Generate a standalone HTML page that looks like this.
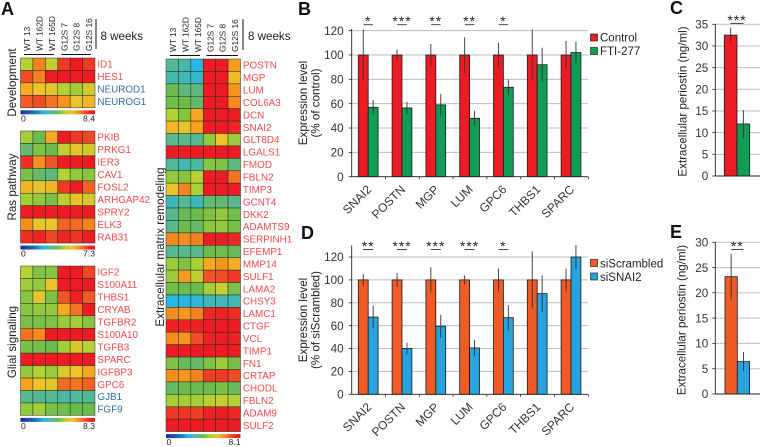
<!DOCTYPE html>
<html lang="en">
<head>
<meta charset="utf-8">
<title>Expression heatmaps and bar charts</title>
<style>
html,body{margin:0;padding:0;background:#fff}
svg{display:block;font-family:"Liberation Sans",Arial,sans-serif}
.letter{font-size:18px;font-weight:bold;fill:#111}
.title{font-size:11.6px;fill:#222}
.wk{font-size:11.6px;fill:#222}
</style>
</head>
<body>
<svg id="fig" xmlns="http://www.w3.org/2000/svg" width="760" height="447" viewBox="0 0 760 447">
  <defs>
    <linearGradient id="cbar" x1="0" x2="1" y1="0" y2="0"></linearGradient>
  </defs>
  <text class="letter" x="1" y="15">A</text>
  <text class="letter" x="298" y="15">B</text>
  <text class="letter" x="670" y="14">C</text>
  <text class="letter" x="301" y="239">D</text>
  <text class="letter" x="670" y="238">E</text>

  <text class="title" text-anchor="middle" transform="translate(16,82.5) rotate(-90)">Development</text>
  <text class="title" text-anchor="middle" transform="translate(16,187) rotate(-90)">Ras pathway</text>
  <text class="title" text-anchor="middle" transform="translate(16,342) rotate(-90)">Glial signaling</text>
  <text class="title" text-anchor="middle" transform="translate(164,247) rotate(-90)">Extracellular matrix remodeling</text>

  <line x1="96" x2="96" y1="19" y2="49" stroke="#111" stroke-width="1"/>
  <text class="wk" x="100.5" y="40">8 weeks</text>
  <line x1="243" x2="243" y1="19" y2="50" stroke="#111" stroke-width="1"/>
  <text class="wk" x="248" y="40">8 weeks</text>
  <line x1="24" x2="54" y1="54.5" y2="54.5" stroke="#111" stroke-width="1"/>
  <line x1="61.5" x2="91" y1="54.5" y2="54.5" stroke="#111" stroke-width="1"/>
  <line x1="170" x2="200" y1="55.5" y2="55.5" stroke="#111" stroke-width="1"/>
  <line x1="206.5" x2="238" y1="55.5" y2="55.5" stroke="#111" stroke-width="1"/>

  <text class="title" text-anchor="middle" transform="translate(307,103) rotate(-90)">Expression level</text>
  <text class="title" text-anchor="middle" transform="translate(319.5,103) rotate(-90)">(% of control)</text>
  <text class="title" text-anchor="middle" transform="translate(307,320) rotate(-90)">Expression level</text>
  <text class="title" text-anchor="middle" transform="translate(319.5,320) rotate(-90)">(% of siScrambled)</text>
  <text class="title" text-anchor="middle" transform="translate(686.5,101.5) rotate(-90)">Extracellular periostin (ng/ml)</text>
  <text class="title" text-anchor="middle" transform="translate(685.5,320) rotate(-90)">Extracellular periostin (ng/ml)</text>

  <rect x="590.5" y="34" width="7" height="7" fill="#ed1c24" stroke="#222" stroke-width=".7"/>
  <text x="600" y="41.5" font-size="11.5" fill="#222">Control</text>
  <rect x="590.5" y="47.5" width="7" height="7" fill="#0f9d58" stroke="#222" stroke-width=".7"/>
  <text x="600" y="55" font-size="11.5" fill="#222">FTI-277</text>
  <rect x="590.5" y="259.5" width="7" height="7" fill="#f15a24" stroke="#222" stroke-width=".7"/>
  <text x="600" y="267.5" font-size="11.5" fill="#222">siScrambled</text>
  <rect x="590.5" y="273" width="7" height="7" fill="#27a4dd" stroke="#222" stroke-width=".7"/>
  <text x="600" y="281" font-size="11.5" fill="#222">siSNAI2</text>
</svg>
<script>
// ---------- heatmap data (expression on a 0-10 colour scale) ----------
const sampleLabels = ["WT 13","WT 162D","WT 165D","G12S 7","G12S 8","G12S 16"];

const devGenes = ["ID1","HES1","NEUROD1","NEUROG1"];
const devValues = [
  [6,8,6.2,9,9.5,9],
  [8.7,8,9.5,9.5,9.5,9.5],
  [7.3,7,6.8,6,5.8,6.5],
  [8.5,8.7,8.2,7.7,7,7.2]
];
const rasGenes = ["PKIB","PRKG1","IER3","CAV1","FOSL2","ARHGAP42","SPRY2","ELK3","RAB31"];
const rasValues = [
  [5.8,5,7.4,9.5,9,8.8],
  [4.7,5.3,5,6.2,6.8,6.5],
  [9.2,7.8,8.6,9.5,9.5,9.5],
  [5.2,4.8,4.6,6,5.6,5.4],
  [7.2,6.8,7.2,9,9.5,8.4],
  [5.8,5.6,5.2,6.2,6.9,6.5],
  [9.5,9.5,9.5,9.5,9.5,9.5],
  [7.8,6.9,7,8.4,8.3,8],
  [9.2,9.4,8.8,9.3,9.1,9.5]
];
const glialGenes = ["IGF2","S100A11","THBS1","CRYAB","TGFBR2","S100A10","TGFB3","SPARC","IGFBP3","GPC6","GJB1","FGF9"];
const glialValues = [
  [6,5.3,5.4,9.5,9.5,8.8],
  [5.8,5.6,7,9.5,9.5,9.5],
  [5.4,6.8,5.2,8.6,9.4,8.5],
  [5.4,5.6,5.6,7.4,8.2,9.5],
  [5.2,5.2,5.3,5.7,5.8,5.4],
  [8.2,7.9,9.5,9.5,9.5,9.5],
  [5.2,5.1,5,5.8,6.6,6],
  [9.5,9.5,9.5,9.5,9.5,9.5],
  [5.6,6,5.7,6.6,7,7.4],
  [7.5,7,6.7,8.3,8.2,8.4],
  [4.4,4.3,4.3,3.9,4.1,4.2],
  [5.6,5.8,5.2,5.1,5,5]
];
const ecmGenes = ["POSTN","MGP","LUM","COL6A3","DCN","SNAI2","GLT8D4","LGALS1","FMOD","FBLN2","TIMP3","GCNT4","DKK2","ADAMTS9","SERPINH1","EFEMP1","MMP14","SULF1","LAMA2","CHSY3","LAMC1","CTGF","VCL","TIMP1","FN1","CRTAP","CHODL","FBLN2","ADAM9","SULF2"];
const ecmValues = [
  [4.2,3.9,3,9.5,9.5,7.6],
  [3.8,3.7,3.4,9.5,9.5,7.1],
  [5,4.6,4.6,9.5,9.5,7.7],
  [5.1,5,4.7,9.5,9.5,7.9],
  [6,5.4,7.4,9.5,9.5,9.5],
  [7.2,6.9,7.5,9.5,9.5,9.3],
  [4.4,4.4,4.3,5.6,7,5.7],
  [9.5,9.5,9.5,9.5,9.5,9.5],
  [4.2,3.8,4,5.4,5.3,4.6],
  [5.6,5.4,6.1,9.5,9.5,8.2],
  [6.9,8,5.9,9.5,9.5,9.5],
  [3.6,4.3,3.6,4.7,4.7,4.4],
  [4.4,4.9,5,5.3,5.6,5.1],
  [4.4,5,4.8,5.5,5.6,5.2],
  [7.9,7.8,8,9.5,9.5,9.3],
  [4.3,4.4,4.4,5,5.1,4.9],
  [5.7,5.3,5.9,7.4,7.7,7.3],
  [5.7,7.6,6.2,8.6,8.7,9],
  [5.1,5,5,5.8,6.3,5.2],
  [3,3.1,3.2,3.6,3.7,3.7],
  [7.8,7.7,8,9.3,9.4,9.2],
  [9.4,9.4,9.4,9.5,9.5,9.5],
  [7.8,7.7,8.7,9.4,9.5,9.4],
  [9.5,9.5,9.5,9.5,9.5,9.5],
  [5.3,4.9,4.8,5.3,5.7,5.2],
  [7.8,7.7,8,8.9,9,8.7],
  [4.8,5,5,5,5.2,4.9],
  [5.8,5.8,5.8,6.1,6.3,6],
  [9,9.1,8.9,9.4,9.5,9.3],
  [9.5,9.5,9.5,9.5,9.5,9.5]
];
const blueGenes = ["NEUROD1","NEUROG1","GJB1","FGF9"];

// ---------- bar chart data ----------
const expressionGenes = ["SNAI2","POSTN","MGP","LUM","GPC6","THBS1","SPARC"];
const ticksB = [0,20,40,60,80,100,120];
const controlValues = [100,100,100,100,100,100,100];
const controlErrors = [21,4.5,9,14.5,10,21,11.5];
const ftiValues = [57,56.5,59,48,73.5,92,102];
const ftiErrors = [6,5,9,6,6.5,14,9];
const starsB = ["*","***","**","**","*","",""];

const ticksD = [0,20,40,60,80,100,120];
const scrambledValues = [100,100,100,100,100,100,100];
const scrambledErrors = [5,6,11,4,10,25,10];
const sisnaiValues = [67.5,40,59.5,40.5,67,88,120];
const sisnaiErrors = [10,5,10,7,11,16,10.5];
const starsD = ["**","***","***","***","*","",""];

const ticksC = [0,5,10,15,20,25,30,35];
const periostinCValues = [32.5,12];
const periostinCErrors = [1.7,3.2];
const starsC = "***";

const ticksE = [0,5,10,15,20,25,30];
const periostinEValues = [23.2,6.4];
const periostinEErrors = [4.5,1.9];
const starsE = "**";

// ---------- helpers ----------
const svg = document.getElementById('fig');
const NS = 'http://www.w3.org/2000/svg';
function mk(tag, attrs, text){
  const n = document.createElementNS(NS, tag);
  for(const k in attrs) n.setAttribute(k, attrs[k]);
  if(text !== undefined) n.textContent = text;
  svg.appendChild(n);
  return n;
}
const colorStops = [
  [0,'#1b2a8f'],[2,'#1c75bc'],[3,'#27b6e6'],[4,'#4db8a0'],[4.5,'#5cb88a'],[5,'#6cbb4e'],
  [5.5,'#8cc63f'],[6,'#b2d235'],[6.5,'#d4c92c'],[7,'#eec22a'],[7.5,'#f7a11d'],[8,'#f58220'],
  [8.5,'#f15a29'],[9,'#ee3a24'],[9.5,'#ed1c24'],[10,'#ed1c24']
];
function hexRgb(h){return [1,3,5].map(i=>parseInt(h.slice(i,i+2),16));}
function heatColor(v){
  for(let i=1;i<colorStops.length;i++){
    if(v<=colorStops[i][0]){
      const a=colorStops[i-1],b=colorStops[i],t=(v-a[0])/(b[0]-a[0]);
      const ca=hexRgb(a[1]),cb=hexRgb(b[1]);
      return 'rgb('+ca.map((c,j)=>Math.round(c+(cb[j]-c)*t)).join(',')+')';
    }
  }
  return colorStops[colorStops.length-1][1];
}
const grad = document.getElementById('cbar');
colorStops.forEach(s=>{
  const st=document.createElementNS(NS,'stop');
  st.setAttribute('offset',(s[0]/10*100)+'%');
  st.setAttribute('stop-color',s[1]);
  grad.appendChild(st);
});

function heatmap(opt){
  const cw=opt.w/6, rh=opt.rowH;
  opt.values.forEach((row,r)=>{
    row.forEach((v,c)=>{
      const cell=mk('rect',{x:opt.x+c*cw,y:opt.y+r*rh,width:cw,height:rh,fill:heatColor(v),stroke:'#1a2a1a','stroke-width':.55,'stroke-opacity':.85});
      
      
    });
    const g=opt.genes[r];
    const lab=mk('text',{x:opt.x+opt.w+2.4,y:opt.y+r*rh+rh/2+3.5,'font-size':9.9,fill:blueGenes.includes(g)?'#2f6ea5':'#f04a4a'},g);
    
    
  });
  const bottom=opt.y+opt.values.length*rh;
  const bar=mk('rect',{x:opt.x,y:bottom+2.5,width:opt.w,height:4,fill:'url(#cbar)'});
  
  
  const lo=mk('text',{x:opt.x+.5,y:bottom+13.5,'font-size':8.6,fill:'#222'},'0');
  
  
  const hi=mk('text',{x:opt.x+opt.w,y:bottom+13.5,'font-size':8.6,fill:'#222','text-anchor':'end'},opt.max);
  
  
}
heatmap({x:20.5,y:58,w:74.5,rowH:12.45,values:devValues,genes:devGenes,max:'8.4'});
heatmap({x:20.5,y:131,w:74.5,rowH:12.45,values:rasValues,genes:rasGenes,max:'7.3'});
heatmap({x:20.5,y:266,w:74.5,rowH:12.45,values:glialValues,genes:glialGenes,max:'8.3'});
heatmap({x:166,y:59,w:74.5,rowH:12.42,values:ecmValues,genes:ecmGenes,max:'8.1'});

function sampleHeaders(x0,yEnd){
  sampleLabels.forEach((s,i)=>{
    const t=mk('text',{'font-size':8.3,fill:'#222',transform:'translate('+(x0+i*12.42)+','+yEnd+') rotate(-90)'},s);
    
    
  });
}
sampleHeaders(30,51);
sampleHeaders(176,52);

function barChart(o){
  const xAt=i=>o.x0+o.step*i;
  const y=v=>o.y0-v*o.scale;
  o.ticks.forEach(t=>{
    if(t>0){
      const g=mk('line',{x1:o.x0,x2:o.xEnd,y1:y(t),y2:y(t),stroke:'#bdbdbd','stroke-width':1});
      
      
    }
    const tk=mk('line',{x1:o.x0-3,x2:o.x0,y1:y(t),y2:y(t),stroke:'#222','stroke-width':.8});
    
    
    const lb=mk('text',{x:o.x0-o.labelGap,y:y(t)+4.2,'font-size':11.7,fill:'#333','text-anchor':'end'},t);
    
    
  });
  o.a.forEach((va,i)=>{
    const xl=xAt(i)+o.off;
    const r1=mk('rect',{x:xl,y:y(va),width:o.bw,height:y(0)-y(va),fill:o.colA,stroke:'#1a1a1a','stroke-width':.8});
    
    
    const vb=o.b[i];
    const r2=mk('rect',{x:xl+o.bw,y:y(vb),width:o.bw,height:y(0)-y(vb),fill:o.colB,stroke:'#1a1a1a','stroke-width':.8});
    
    
    const e1=mk('line',{x1:xl+o.bw/2,x2:xl+o.bw/2,y1:y(va+o.ea[i]),y2:y(va-o.ea[i]),stroke:'#333','stroke-width':.9});
    
    
    const e2=mk('line',{x1:xl+1.5*o.bw,x2:xl+1.5*o.bw,y1:y(vb+o.eb[i]),y2:y(vb-o.eb[i]),stroke:'#333','stroke-width':.9});
    
    
    const star=o.stars[i];
    if(star){
      const cx=xl+o.bw;
      const s=mk('text',{x:cx,y:o.starY,'font-size':14,fill:'#222','text-anchor':'middle','letter-spacing':1},star);
      
      
      const b=mk('line',{x1:cx-o.sigHalf,x2:cx+o.sigHalf,y1:o.sigY,y2:o.sigY,stroke:'#333','stroke-width':.9});
      
      
    }
    if(o.cats){
      const t=mk('text',{'font-size':12,fill:'#333','text-anchor':'end',transform:'translate('+(xl+o.bw+4)+','+(o.y0+13.5)+') rotate(-45)'},o.cats[i]);
      
      
      const k=mk('line',{x1:xAt(i+1),x2:xAt(i+1),y1:o.y0,y2:o.y0+2.5,stroke:'#222','stroke-width':.8});
      
      
    }
  });
  const ay=mk('line',{x1:o.x0,x2:o.x0,y1:o.yTop,y2:o.y0,stroke:'#222','stroke-width':.9});
  
  
  const ax=mk('line',{x1:o.x0,x2:o.xEnd,y1:o.y0,y2:o.y0,stroke:'#222','stroke-width':.9});
  
  
}
barChart({x0:351.7,step:33.8,xEnd:588,y0:176.7,scale:1.217,yTop:29,off:6.6,bw:9.9,labelGap:8,ticks:ticksB,
  a:controlValues,ea:controlErrors,b:ftiValues,eb:ftiErrors,colA:'#ed1c24',colB:'#0f9d58',nameA:'control',nameB:'fti-277',
  stars:starsB,starY:26,sigY:24.7,sigHalf:4.7,cats:expressionGenes});
barChart({x0:351.7,step:33.8,xEnd:588,y0:394.3,scale:1.144,yTop:245.5,off:6.6,bw:9.9,labelGap:8,ticks:ticksD,
  a:scrambledValues,ea:scrambledErrors,b:sisnaiValues,eb:sisnaiErrors,colA:'#f15a24',colB:'#27a4dd',nameA:'siscrambled',nameB:'sisnai2',
  stars:starsD,starY:251,sigY:249.5,sigHalf:5,cats:expressionGenes});
barChart({x0:715.3,step:45,xEnd:760,y0:176,scale:4.335,yTop:24,off:9,bw:12.7,labelGap:7,ticks:ticksC,
  a:[periostinCValues[0]],ea:[periostinCErrors[0]],b:[periostinCValues[1]],eb:[periostinCErrors[1]],colA:'#ed1c24',colB:'#0f9d58',nameA:'control',nameB:'fti-277',
  stars:[starsC],starY:25,sigY:23.4,sigHalf:6.5});
barChart({x0:715.3,step:45,xEnd:760,y0:394,scale:5.057,yTop:242,off:9.7,bw:12.3,labelGap:7,ticks:ticksE,
  a:[periostinEValues[0]],ea:[periostinEErrors[0]],b:[periostinEValues[1]],eb:[periostinEErrors[1]],colA:'#f15a24',colB:'#27a4dd',nameA:'siscrambled',nameB:'sisnai2',
  stars:[starsE],starY:251,sigY:249.5,sigHalf:6});
</script>
</body>
</html>
